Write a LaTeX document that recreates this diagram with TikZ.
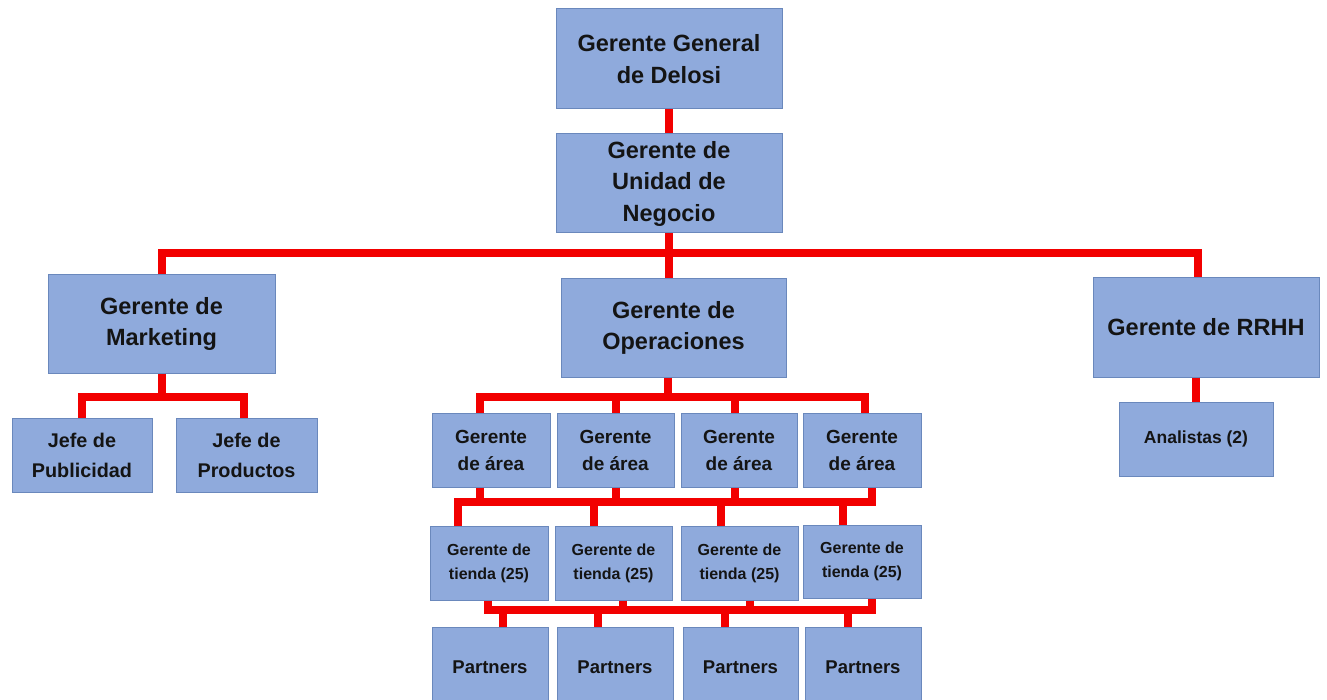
\documentclass[tikz,border=0pt]{standalone}
\usepackage{fontspec}
\setmainfont{Liberation Sans}
\definecolor{boxfill}{HTML}{8FAADC}
\definecolor{boxline}{HTML}{6A88BC}
\definecolor{connred}{HTML}{F20000}
\begin{document}
\begin{tikzpicture}[x=1pt,y=-1pt,
  orgbox/.style={draw=boxline, line width=1pt, fill=boxfill, align=center, inner sep=0pt, text=black!92, font=\bfseries},
  bigtxt/.style={font=\bfseries\fontsize{23.5}{31.5}\selectfont},
  rrhhtxt/.style={font=\bfseries\fontsize{23.5}{31}\selectfont},
  midtxt/.style={font=\bfseries\fontsize{19.8}{30}\selectfont},
  areatxt/.style={font=\bfseries\fontsize{19}{27}\selectfont},
  parttxt/.style={font=\bfseries\fontsize{18.5}{26}\selectfont},
  smalltxt/.style={font=\bfseries\fontsize{16}{24}\selectfont},
  antxt/.style={font=\bfseries\fontsize{17.5}{24}\selectfont},
  conn/.style={draw=connred, line width=8pt, line join=miter}]
\useasboundingbox[fill=white] (0,0) rectangle (1327,700);
% level 0/1
\node[orgbox,bigtxt,minimum width=226pt,minimum height=100pt] (gg) at (669,59) {Gerente General\\de Delosi};
\node[orgbox,bigtxt,minimum width=226pt,minimum height=99pt] (un) at (669,183.5) {Gerente de\\Unidad de\\Negocio};
% level 2
\node[orgbox,bigtxt,minimum width=227pt,minimum height=98pt] (mk) at (161.5,324) {Gerente de\\Marketing};
\node[orgbox,bigtxt,minimum width=225pt,minimum height=98pt] (op) at (673.5,328) {Gerente de\\Operaciones};
\node[orgbox,rrhhtxt,minimum width=226pt,minimum height=99pt] (rh) at (1206,327.5) {Gerente de RRHH};
% marketing children
\node[orgbox,midtxt,minimum width=140pt,minimum height=74pt] (jp) at (82,455) {Jefe de\\Publicidad};
\node[orgbox,midtxt,minimum width=141pt,minimum height=74pt] (jpr) at (246.5,455) {Jefe de\\Productos};
% rrhh child
\node[orgbox,antxt,minimum width=154pt,minimum height=74pt] (an) at (1196,439) {Analistas (2)};
% area managers
\node[orgbox,areatxt,minimum width=118pt,minimum height=74pt] (a1) at (491,450) {Gerente\\de área};
\node[orgbox,areatxt,minimum width=117pt,minimum height=74pt] (a2) at (615.5,450) {Gerente\\de área};
\node[orgbox,areatxt,minimum width=116pt,minimum height=74pt] (a3) at (739,450) {Gerente\\de área};
\node[orgbox,areatxt,minimum width=118pt,minimum height=74pt] (a4) at (862,450) {Gerente\\de área};
% store managers
\node[orgbox,smalltxt,minimum width=118pt,minimum height=74pt] (t1) at (489,563) {Gerente de\\tienda (25)};
\node[orgbox,smalltxt,minimum width=117pt,minimum height=74pt] (t2) at (613.5,563) {Gerente de\\tienda (25)};
\node[orgbox,smalltxt,minimum width=117pt,minimum height=74pt] (t3) at (739.5,563) {Gerente de\\tienda (25)};
\node[orgbox,smalltxt,minimum width=118pt,minimum height=73pt] (t4) at (862,561.5) {Gerente de\\tienda (25)};
% partners
\node[orgbox,parttxt,minimum width=116pt,minimum height=80pt] (p1) at (490,667) {Partners};
\node[orgbox,parttxt,minimum width=116pt,minimum height=80pt] (p2) at (615,667) {Partners};
\node[orgbox,parttxt,minimum width=115pt,minimum height=80pt] (p3) at (740.5,667) {Partners};
\node[orgbox,parttxt,minimum width=116pt,minimum height=80pt] (p4) at (863,667) {Partners};
% bus coordinates
\coordinate (b1) at (669,253);
\coordinate (bm) at (161.5,397);
\coordinate (bo) at (667.5,397);
\coordinate (b2) at (665,502);
\coordinate (b3) at (680,610);
% connectors
\draw[conn] (gg.south) -- (un.north);
\draw[conn] (mk.north) |- (b1) -| ([xshift=-8pt]rh.north);
\draw[conn] (un.south) -- (un.south |- op.north);
\draw[conn] (mk.south) -- (bm);
\draw[conn] (jp.north) |- (bm) -| ([xshift=-3pt]jpr.north);
\draw[conn] ([xshift=-6pt]op.south) -- (bo);
\draw[conn] ([xshift=-11pt]a1.north) |- (bo) -| ([xshift=3pt]a4.north);
\draw[conn] (a2.north) |- (bo);
\draw[conn] ([xshift=-4pt]a3.north) |- (bo);
\draw[conn] ([xshift=-31pt]t1.north) |- (b2) -| ([xshift=10pt]a4.south);
\draw[conn] ([xshift=-11pt]a1.south) |- (b2);
\draw[conn] (a2.south) |- (b2);
\draw[conn] ([xshift=-4pt]a3.south) |- (b2);
\draw[conn] ([xshift=-20pt]t2.north) |- (b2);
\draw[conn] ([xshift=-19pt]t3.north) |- (b2);
\draw[conn] ([xshift=-19pt]t4.north) |- (b2);
\draw[conn] ([xshift=-1pt]t1.south) |- (b3) -| ([xshift=10pt]t4.south);
\draw[conn] ([xshift=9.5pt]t2.south) |- (b3);
\draw[conn] ([xshift=10.5pt]t3.south) |- (b3);
\draw[conn] ([xshift=13pt]p1.north) |- (b3);
\draw[conn] ([xshift=-17pt]p2.north) |- (b3);
\draw[conn] ([xshift=-15.5pt]p3.north) |- (b3);
\draw[conn] ([xshift=-15pt]p4.north) |- (b3);
\draw[conn] ([xshift=-10pt]rh.south) -- (an.north);
\end{tikzpicture}
\end{document}
